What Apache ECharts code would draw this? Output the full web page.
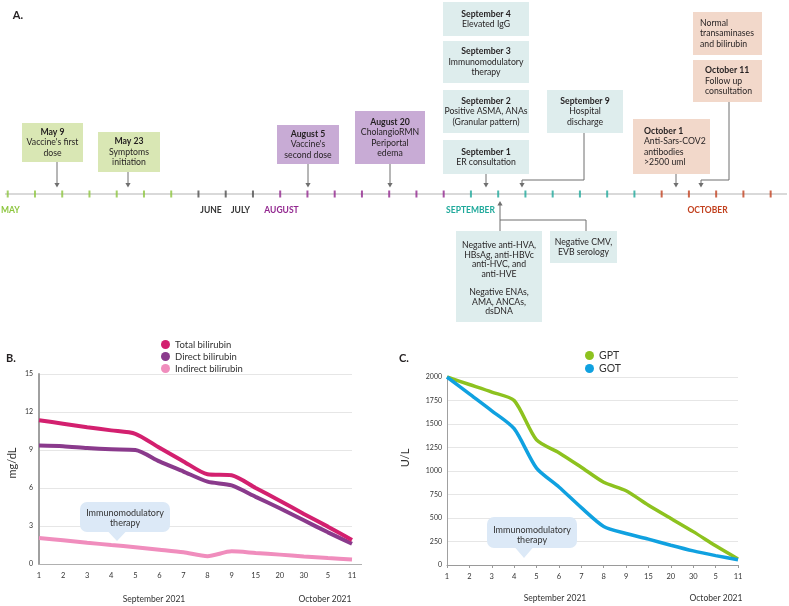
<!DOCTYPE html>
<html><head><meta charset="utf-8">
<script src="https://cdn.jsdelivr.net/npm/echarts@6/dist/echarts.min.js"></script>
<style>html,body{margin:0;padding:0;background:#fff}#c{width:789px;height:606px}</style>
</head><body><div id="c"></div>
<script>
// ---------- data ----------
const dayLabels = ['1','2','3','4','5','6','7','8','9','15','20','30','5','11'];
const totalBilirubin    = [11.35, 11.08, 10.8, 10.55, 10.28, 9.18, 8.1, 7.08, 7.0, 6.0, 5.0, 3.95, 2.95, 1.9];
const directBilirubin   = [9.35, 9.3, 9.15, 9.05, 9.0, 8.1, 7.3, 6.5, 6.2, 5.3, 4.4, 3.45, 2.5, 1.6];
const indirectBilirubin = [2.05, 1.87, 1.68, 1.5, 1.33, 1.13, 0.92, 0.62, 1.0, 0.87, 0.74, 0.6, 0.47, 0.35];
const gptValues = [2000, 1920, 1840, 1750, 1330, 1195, 1040, 880, 790, 635, 495, 355, 205, 65];
const gotValues = [2000, 1820, 1640, 1450, 1030, 830, 610, 410, 335, 275, 210, 150, 100, 55];
const bilirubinSeriesNames = ['Total bilirubin', 'Direct bilirubin', 'Indirect bilirubin'];
const enzymeSeriesNames = ['GPT', 'GOT'];
const monthNames = ['MAY', 'JUNE', 'JULY', 'AUGUST', 'SEPTEMBER', 'OCTOBER'];
const tickGroupCounts = [7, 3, 7, 7, 5];
const timelineEvents = [
  ['May 9', "Vaccine's first", 'dose'],
  ['May 23', 'Symptoms', 'initiation'],
  ['August 5', "Vaccine's", 'second dose'],
  ['August 20', 'CholangioRMN', 'Periportal', 'edema'],
  ['September 4', 'Elevated IgG'],
  ['September 3', 'Immunomodulatory', 'therapy'],
  ['September 2', 'Positive ASMA, ANAs', '(Granular pattern)'],
  ['September 1', 'ER consultation'],
  ['September 9', 'Hospital', 'discharge'],
  ['October 1', 'Anti-Sars-COV2', 'antibodies', '>2500 uml'],
  ['October 11', 'Follow up', 'consultation']
];
const noteNormal = ['Normal', 'transaminases', 'and bilirubin'];
const noteSerology1 = ['Negative anti-HVA,', 'HBsAg, anti-HBVc', 'anti-HVC, and', 'anti-HVE'];
const noteSerology2 = ['Negative ENAs,', 'AMA, ANCAs,', 'dsDNA'];
const noteSerology3 = ['Negative CMV,', 'EVB serology'];
const calloutText = ['Immunomodulatory', 'therapy'];

// ---------- style ----------
const FONT = 'Lato, "Open Sans", sans-serif';
const TXT = '#231f20';
const BOX = {green:'#d9e7b4', purple:'#c8abd5', teal:'#deeded', orange:'#f2d8ca'};
const tickColors = ['#8dc63f', '#4d4d4d', '#92278f', '#1fa99b', '#c2411f'];
const monthColors = ['#8dc63f', '#333333', '#333333', '#92278f', '#1fa99b', '#c2411f'];
const ARROW = '#6f6f6f';

// timeline ticks built from the groups
const tickData = [];
let idx = 0;
tickGroupCounts.forEach((n, g) => {
  for (let k = 0; k < n; k++) { tickData.push({value: [idx, 0], itemStyle: {color: tickColors[g]}}); idx++; }
});

const graphic = [];
function txt(x, y, t, o) {
  o = o || {};
  graphic.push({type: 'text', x: x, y: y, rotation: o.rot || 0, z: 10,
    style: {text: t, fill: o.color || TXT, fontSize: o.size || 8.7, fontWeight: o.bold ? 'bold' : 'normal',
      fontFamily: FONT, align: o.align || 'center', verticalAlign: 'middle'}});
}
function rect(x, y, w, h, fill, r) {
  graphic.push({type: 'rect', z: 5, shape: {x: x, y: y, width: w, height: h, r: r || 0}, style: {fill: fill}});
}
function box(x, y, w, h, fill, lines, o) {
  o = o || {};
  rect(x, y, w, h, fill);
  const lh = 10.4;
  const cy = y + h / 2;
  const y0 = cy - (lines.length - 1) * lh / 2;
  lines.forEach((l, i) => {
    txt(o.tx != null ? o.tx : x + w / 2, y0 + i * lh, l, {bold: i === 0 && o.bold !== false, align: o.align || 'center'});
  });
}
function poly(points) {
  graphic.push({type: 'polyline', z: 6, shape: {points: points}, style: {stroke: ARROW, lineWidth: 1, fill: null}});
}
function headDown(x, y) {
  graphic.push({type: 'polygon', z: 6, shape: {points: [[x - 2.6, y - 4.5], [x + 2.6, y - 4.5], [x, y]]}, style: {fill: ARROW}});
}
function headUp(x, y) {
  graphic.push({type: 'polygon', z: 6, shape: {points: [[x - 2.6, y + 4.5], [x + 2.6, y + 4.5], [x, y]]}, style: {fill: ARROW}});
}

// panel letters
txt(18, 15, 'A.', {bold: true, size: 11});
txt(11, 358, 'B.', {bold: true, size: 11});
txt(404, 358, 'C.', {bold: true, size: 11});

// event boxes
const layout = [
  [22, 123, 61, 39, 'green'], [98, 132, 62, 40, 'green'],
  [277, 125, 62, 39, 'purple'], [355, 111, 70, 53, 'purple'],
  [443, 2, 86, 34, 'teal'], [443, 41, 86, 42, 'teal'], [443, 90, 86, 43, 'teal'], [443, 140, 86, 34, 'teal'],
  [547, 90, 76, 43, 'teal'],
  [633, 119, 77, 55, 'orange', 644], [693, 60, 69, 42, 'orange', 705]
];
timelineEvents.forEach((ev, i) => {
  const L = layout[i];
  box(L[0], L[1], L[2], L[3], BOX[L[4]], ev, L[5] != null ? {tx: L[5], align: 'left'} : {});
});
box(693, 12, 69, 43, BOX.orange, noteNormal, {tx: 700, align: 'left', bold: false});
rect(456, 231, 86, 91, BOX.teal);
noteSerology1.forEach((l, i) => txt(499, 245 + i * 9.7, l));
noteSerology2.forEach((l, i) => txt(499, 292 + i * 9.7, l));
box(550, 231, 67, 32, BOX.teal, noteSerology3, {bold: false});

// arrows
[[57, 162], [128, 172], [308, 164], [390, 164], [486, 174], [676, 174]].forEach(a => {
  poly([[a[0], a[1]], [a[0], 183]]); headDown(a[0], 187.5);
});
poly([[584, 133], [584, 180], [522, 180], [522, 183]]); headDown(522, 187.5);
poly([[729, 102], [729, 180], [701, 180], [701, 183]]); headDown(701, 187.5);
poly([[500, 205], [500, 231]]); headUp(500, 201);
poly([[500, 220], [586, 220], [586, 231]]);

// month labels
const monthX = [[1, 'left'], [211, 'center'], [240.5, 'center'], [281.5, 'center'], [470.5, 'center'], [707.5, 'center']];
monthNames.forEach((m, i) => txt(monthX[i][0], 210, m, {bold: true, color: monthColors[i], align: monthX[i][1], size: 8.5}));

// axis titles
txt(12, 463, 'mg/dL', {rot: Math.PI / 2, size: 11, color: '#333'});
txt(405, 458, 'U/L', {rot: Math.PI / 2, size: 11, color: '#333'});
txt(154, 599, 'September 2021', {size: 8.5, color: '#333'});
txt(325, 599, 'October 2021', {size: 8.5, color: '#333'});
txt(555, 598, 'September 2021', {size: 8.5, color: '#333'});
txt(716, 598, 'October 2021', {size: 8.5, color: '#333'});
// extension of B x-axis line
graphic.push({type: 'line', z: 1, shape: {x1: 352, y1: 564.5, x2: 362, y2: 564.5}, style: {stroke: '#b0b0b0', lineWidth: 1}});

// callouts
function callout(x, y, w, h, tipX, tipY, ty) {
  rect(x, y, w, h, '#dce9f7', 7);
  graphic.push({type: 'polygon', z: 5, shape: {points: [[tipX - 9, y + h - 0.5], [tipX + 9, y + h - 0.5], [tipX, tipY]]}, style: {fill: '#dce9f7'}});
  calloutText.forEach((l, i) => txt(x + w / 2, ty + i * 10.3, l, {size: 9, color: '#333'}));
}
callout(80, 502, 90, 30, 117, 541, 512.7);
callout(487, 517, 90, 31, 524, 558, 530);

const axLabel = {fontSize: 7.5, color: '#333', fontFamily: FONT};
const option = {
  animation: false,
  textStyle: {fontFamily: FONT},
  grid: [
    {left: 39, top: 374, width: 313, height: 190},
    {left: 447, top: 377, width: 291, height: 188},
    {left: 5, top: 184, width: 782, height: 20}
  ],
  legend: [
    {data: bilirubinSeriesNames, orient: 'vertical', left: 156, top: 334, itemWidth: 9, itemHeight: 9, itemGap: 1,
      icon: 'circle', textStyle: {fontSize: 9.5, color: '#333', lineHeight: 11, fontFamily: FONT}},
    {data: enzymeSeriesNames, orient: 'vertical', left: 580, top: 345, itemWidth: 9, itemHeight: 9, itemGap: 2,
      icon: 'circle', textStyle: {fontSize: 10.5, color: '#333', lineHeight: 11, fontFamily: FONT}}
  ],
  xAxis: [
    {type: 'category', gridIndex: 0, data: dayLabels, boundaryGap: false,
      axisLine: {lineStyle: {color: '#b0b0b0', width: 1}}, axisTick: {show: false},
      axisLabel: Object.assign({margin: 8, interval: 0}, axLabel)},
    {type: 'category', gridIndex: 1, data: dayLabels, boundaryGap: false,
      axisLine: {lineStyle: {color: '#9a9a9a', width: 1}}, axisTick: {show: true, length: 3, interval: 0, lineStyle: {color: '#9a9a9a'}},
      axisLabel: Object.assign({margin: 8, interval: 0}, axLabel)},
    {type: 'value', gridIndex: 2, min: -0.1, max: 28.6, show: false}
  ],
  yAxis: [
    {type: 'value', gridIndex: 0, min: 0, max: 15, interval: 3,
      axisLine: {show: true, lineStyle: {color: '#a0a0a0', width: 2}}, axisTick: {show: false},
      splitLine: {lineStyle: {color: '#e6e6e6'}}, axisLabel: Object.assign({margin: 6}, axLabel, {fontSize: 7})},
    {type: 'value', gridIndex: 1, min: 0, max: 2000, interval: 250,
      axisLine: {show: true, lineStyle: {color: '#a0a0a0', width: 1}}, axisTick: {show: false},
      splitLine: {lineStyle: {color: '#e6e6e6'}},
      axisLabel: Object.assign({margin: 5, formatter: v => String(v)}, axLabel, {fontSize: 7})},
    {type: 'value', gridIndex: 2, min: -1, max: 1, show: false}
  ],
  series: [
    {name: bilirubinSeriesNames[0], type: 'line', xAxisIndex: 0, yAxisIndex: 0, data: totalBilirubin, smooth: 0.25,
      symbol: 'none', color: '#d3206f', lineStyle: {width: 4}, z: 4},
    {name: bilirubinSeriesNames[1], type: 'line', xAxisIndex: 0, yAxisIndex: 0, data: directBilirubin, smooth: 0.25,
      symbol: 'none', color: '#8a3a8c', lineStyle: {width: 4}, z: 3},
    {name: bilirubinSeriesNames[2], type: 'line', xAxisIndex: 0, yAxisIndex: 0, data: indirectBilirubin, smooth: 0.25,
      symbol: 'none', color: '#f08dbd', lineStyle: {width: 4}, z: 3},
    {name: enzymeSeriesNames[0], type: 'line', xAxisIndex: 1, yAxisIndex: 1, data: gptValues, smooth: 0.25,
      symbol: 'none', color: '#8dc21f', lineStyle: {width: 3.5}, z: 3},
    {name: enzymeSeriesNames[1], type: 'line', xAxisIndex: 1, yAxisIndex: 1, data: gotValues, smooth: 0.25,
      symbol: 'none', color: '#10a1e0', lineStyle: {width: 3.5}, z: 4},
    {type: 'line', xAxisIndex: 2, yAxisIndex: 2, data: [[-0.1, 0], [28.6, 0]], symbol: 'none', silent: true,
      color: '#d9d9d9', lineStyle: {width: 2}, z: 1},
    {type: 'scatter', xAxisIndex: 2, yAxisIndex: 2, data: tickData, symbol: 'rect', symbolSize: [2, 7], silent: true, z: 2}
  ],
  graphic: graphic
};
const chart = echarts.init(document.getElementById('c'), null, {renderer: 'canvas'});
chart.setOption(option);
</script></body></html>
